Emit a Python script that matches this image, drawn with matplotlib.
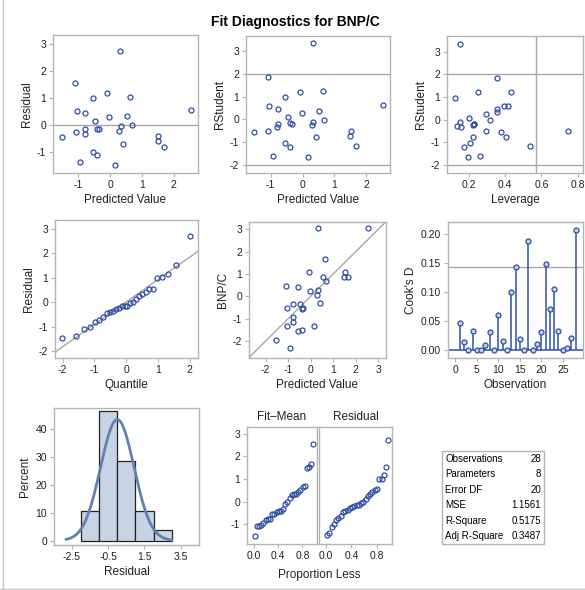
import matplotlib
matplotlib.use("Agg")
import matplotlib.pyplot as plt
import numpy as np

plt.rcParams["font.family"] = ["Liberation Sans", "DejaVu Sans"]
plt.rcParams["axes.unicode_minus"] = False

# per-observation diagnostics
predicted = [0.32, -1.09, -0.08, -0.55, 0.64, -1.04, -0.78, 2.53, 0.53, -0.02,
             -0.46, 0.34, 0.68, -0.78, -0.40, -0.34, 0.29, -1.52, -1.07, -0.80,
             1.52, 1.49, 1.68, 0.42, -0.55, -0.40, -0.93, 0.17]
residual = [2.73, 1.54, 1.16, 0.99, 1.02, 0.52, 0.43, 0.54, 0.33, 0.27,
            0.14, -0.05, -0.01, -0.14, -0.15, -0.17, -0.25, -0.44, -0.27, -0.35,
            -0.41, -0.62, -0.81, -0.72, -1.00, -1.12, -1.40, -1.49]
rstudent = [3.35, 1.84, 1.21, 0.96, 1.24, 0.59, 0.47, 0.63, 0.35, 0.26,
            0.10, -0.10, -0.01, -0.19, -0.18, -0.22, -0.26, -0.54, -0.49, -0.34,
            -0.49, -0.75, -1.15, -0.78, -1.03, -1.19, -1.59, -1.63]
leverage = [0.148, 0.352, 0.250, 0.122, 0.430, 0.418, 0.352, 0.394, 0.355, 0.291,
            0.200, 0.152, 0.315, 0.226, 0.229, 0.222, 0.131, 0.374, 0.291, 0.157,
            0.746, 0.404, 0.537, 0.219, 0.204, 0.174, 0.263, 0.193]
cooks_d = [0.048, 0.015, 0.000, 0.034, 0.001, 0.001, 0.010, 0.032, 0.000, 0.061,
           0.016, 0.000, 0.100, 0.143, 0.019, 0.000, 0.189, 0.000, 0.011, 0.032,
           0.148, 0.072, 0.105, 0.034, 0.000, 0.004, 0.021, 0.208]
# normal quantiles for the Q-Q panel (n = 28)
qq_quantile = [-2.01, -1.58, -1.32, -1.13, -0.98, -0.85, -0.73, -0.61, -0.51, -0.41,
               -0.32, -0.22, -0.13, -0.04, 0.04, 0.13, 0.22, 0.32, 0.41, 0.51,
               0.61, 0.73, 0.85, 0.98, 1.13, 1.32, 1.58, 2.01]
# residual histogram
hist_edges = [-2, -1, 0, 1, 2, 3]
hist_pct = [10.7, 46.4, 28.6, 10.7, 3.6]

stat_names = ["Observations", "Parameters", "Error DF", "MSE", "R-Square", "Adj R-Square"]
stat_values = ["28", "8", "20", "1.1561", "0.5175", "0.3487"]

rstudent_cut = 2.0
leverage_cut = 0.571
cooks_cut = 0.143

pred = np.array(predicted)
resid = np.array(residual)
observed = pred + resid
n = len(pred)

W, H = 585, 590
BLUE = "#2e4fa3"
GRAY = "#a8a8a8"
FRAME = "#b4b4b4"
TXT = "#222222"

fig = plt.figure(figsize=(W / 100, H / 100), dpi=100)


def ax_at(x0, y0, x1, y1):
    ax = fig.add_axes([x0 / W, 1 - y1 / H, (x1 - x0) / W, (y1 - y0) / H])
    for s in ax.spines.values():
        s.set_color(FRAME)
        s.set_linewidth(1.0)
    ax.tick_params(labelsize=7.5, colors=FRAME, labelcolor=TXT, length=3, width=0.8, pad=2)
    return ax


def dots(ax, x, y, **kw):
    ax.plot(x, y, "o", ms=3.6, mfc="none", mec=BLUE, mew=0.9, **kw)


def label(ax, xl=None, yl=None):
    if xl:
        ax.set_xlabel(xl, fontsize=8.5, color=TXT, labelpad=3)
    if yl:
        ax.set_ylabel(yl, fontsize=8.5, color=TXT, labelpad=3)


fig.text(0.505, 1 - 22 / H, "Fit Diagnostics for BNP/C", ha="center", va="center",
         fontsize=10, fontweight="bold", color="black")

# residual vs predicted
ax = ax_at(53, 35, 198, 173)
ax.axhline(0, color=GRAY, lw=1)
dots(ax, pred, resid)
ax.set_xlim(-1.79, 2.76)
ax.set_ylim(-1.79, 3.33)
ax.set_xticks([-1, 0, 1, 2])
ax.set_yticks([-1, 0, 1, 2, 3])
label(ax, "Predicted Value", "Residual")

# rstudent vs predicted
ax = ax_at(246, 36, 390, 173)
ax.axhline(rstudent_cut, color=GRAY, lw=1)
ax.axhline(-rstudent_cut, color=GRAY, lw=1)
dots(ax, pred, rstudent)
ax.set_xlim(-1.77, 2.74)
ax.set_ylim(-2.35, 3.65)
ax.set_xticks([-1, 0, 1, 2])
ax.set_yticks([-2, -1, 0, 1, 2, 3])
label(ax, "Predicted Value", "RStudent")

# rstudent vs leverage
ax = ax_at(447, 36, 583, 173)
ax.axhline(rstudent_cut, color=GRAY, lw=1)
ax.axhline(-rstudent_cut, color=GRAY, lw=1)
ax.axvline(leverage_cut, color=GRAY, lw=1)
dots(ax, leverage, rstudent)
ax.set_xlim(0.078, 0.83)
ax.set_ylim(-2.35, 3.7)
ax.set_xticks([0.2, 0.4, 0.6, 0.8])
ax.set_yticks([-2, -1, 0, 1, 2, 3])
label(ax, "Leverage", "RStudent")

# Q-Q plot of residuals
ax = ax_at(55, 220, 198, 358)
sd = resid.std(ddof=1)
xs = np.array([-2.4, 2.4])
ax.plot(xs, resid.mean() + sd * xs, color=GRAY, lw=1)
dots(ax, qq_quantile, np.sort(resid))
ax.set_xlim(-2.24, 2.26)
ax.set_ylim(-2.29, 3.37)
ax.set_xticks([-2, -1, 0, 1, 2])
ax.set_yticks([-2, -1, 0, 1, 2, 3])
label(ax, "Quantile", "Residual")

# observed vs predicted
ax = ax_at(249, 222, 386, 358)
ax.plot([-3, 4], [-3, 4], color=GRAY, lw=1)
dots(ax, pred, observed)
ax.set_xlim(-2.74, 3.35)
ax.set_ylim(-2.76, 3.33)
ax.set_xticks([-2, -1, 0, 1, 2, 3])
ax.set_yticks([-2, -1, 0, 1, 2, 3])
label(ax, "Predicted Value", "BNP/C")

# Cook's D
ax = ax_at(448, 222, 583, 358)
obs = np.arange(1, n + 1)
ax.axhline(cooks_cut, color=GRAY, lw=1)
ax.vlines(obs, 0, cooks_d, color=BLUE, lw=1.1)
ax.axhline(0, color=BLUE, lw=1.1)
ax.plot(obs, cooks_d, "o", ms=3.6, mfc="#c5d0e8", mec=BLUE, mew=0.9)
ax.set_xlim(-1.7, 29.7)
ax.set_ylim(-0.013, 0.221)
ax.set_xticks([0, 5, 10, 15, 20, 25])
ax.set_yticks([0, 0.05, 0.10, 0.15, 0.20])
ax.set_yticklabels(["0.00", "0.05", "0.10", "0.15", "0.20"])
label(ax, "Observation", "Cook's D")

# residual histogram with normal curve
ax = ax_at(54, 408, 199, 545)
edges = np.array(hist_edges, dtype=float)
ax.bar(edges[:-1], hist_pct, width=np.diff(edges), align="edge",
       color="#c8d4e6", edgecolor="#222222", lw=0.9)
xx = np.linspace(-2.8, 3.0, 200)
dens = 100 * 1.0 / (sd * np.sqrt(2 * np.pi)) * np.exp(-0.5 * ((xx - resid.mean()) / sd) ** 2)
ax.plot(xx, dens, color="#6281ad", lw=2)
ax.set_xlim(-3.47, 4.5)
ax.set_ylim(-1.6, 47.5)
ax.set_xticks([-2.5, -0.5, 1.5, 3.5])
ax.set_yticks([0, 10, 20, 30, 40])
label(ax, "Residual", "Percent")

# residual-fit spread plot
fit_mean = np.sort(pred - observed.mean())
prop = (np.arange(n) + 0.5) / n
axa = ax_at(247, 427, 317, 544)
axb = ax_at(319, 427, 392, 544)
for a, vals, title in [(axa, fit_mean, "Fit\u2013Mean"), (axb, np.sort(resid), "Residual")]:
    dots(a, prop, vals)
    a.set_xlim(-0.11, 1.04)
    a.set_ylim(-1.87, 3.3)
    a.set_xticks([0.0, 0.4, 0.8])
    a.set_xticklabels(["0.0", "0.4", "0.8"])
    a.set_yticks([-1, 0, 1, 2, 3])
    a.set_title(title, fontsize=8.5, color=TXT, pad=5)
axb.tick_params(axis="y", left=False, labelleft=False)
fig.text((247 + 392) / 2 / W, 1 - 575 / H, "Proportion Less", ha="center", va="center",
         fontsize=8.5, color=TXT)

# fit statistics table
tx0, ty0, tx1, ty1 = 442, 451, 544, 544
fig.add_artist(plt.Rectangle((tx0 / W, 1 - ty1 / H), (tx1 - tx0) / W, (ty1 - ty0) / H,
                             transform=fig.transFigure, fill=False, ec=FRAME, lw=1))
row_h = (ty1 - ty0) / len(stat_names)
for i, (nm, val) in enumerate(zip(stat_names, stat_values)):
    yc = 1 - (ty0 + row_h * (i + 0.5)) / H
    fig.text((tx0 + 3) / W, yc, nm, ha="left", va="center", fontsize=7, color="black")
    fig.text((tx1 - 3) / W, yc, val, ha="right", va="center", fontsize=7, color="black")

# outer frame lines
fig.add_artist(plt.Line2D([3 / W, 3 / W], [0, 1], transform=fig.transFigure, color="#c8c8c8", lw=1))
fig.add_artist(plt.Line2D([0, 1], [1.5 / H, 1.5 / H], transform=fig.transFigure, color="#c8c8c8", lw=1))

fig.savefig("out.png", dpi=100)
